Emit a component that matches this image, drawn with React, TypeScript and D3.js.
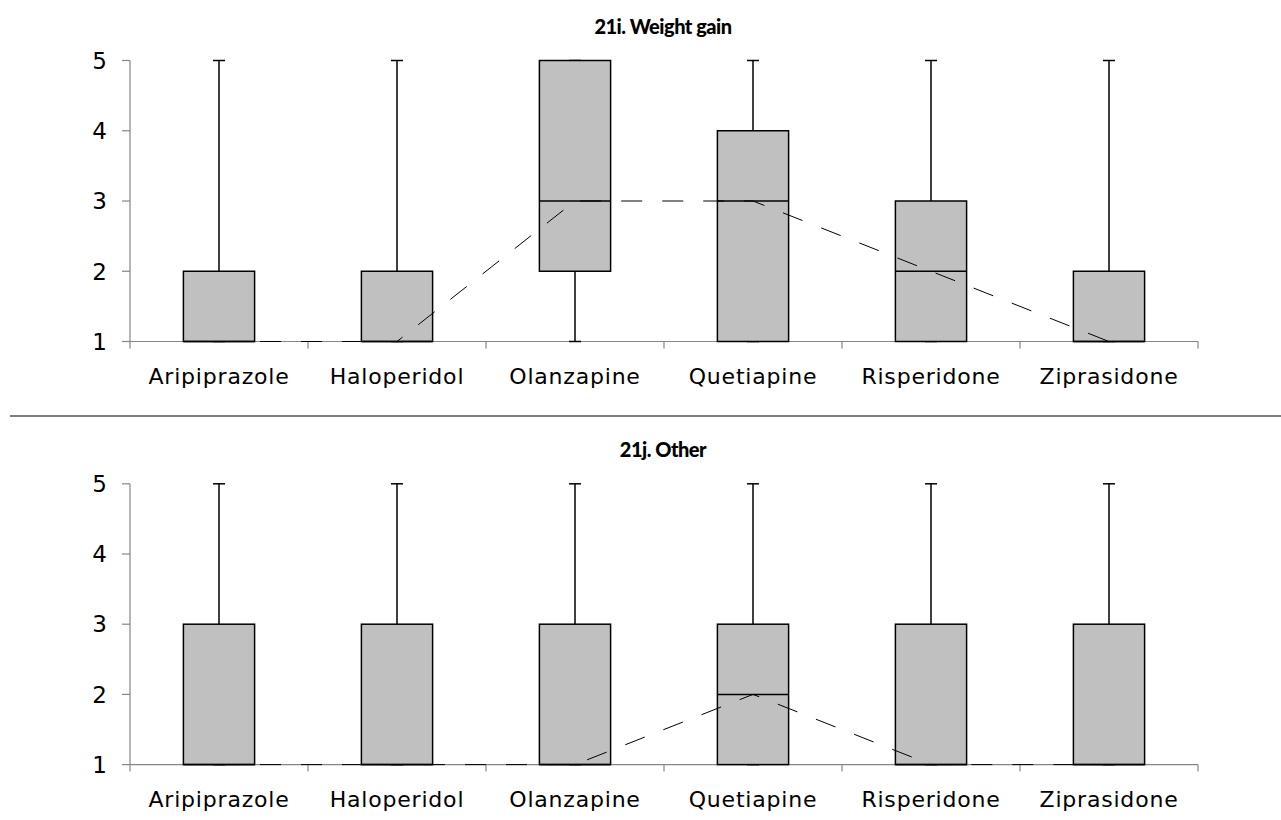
import React from "react";
import * as d3 from "d3";

const categories = ["Aripiprazole", "Haloperidol", "Olanzapine", "Quetiapine", "Risperidone", "Ziprasidone"];
const yTicks = [1, 2, 3, 4, 5];

// Panel 21i. Weight gain
const wgMin = [1, 1, 1, 1, 1, 1];
const wgQ1 = [1, 1, 2, 1, 1, 1];
const wgMedian = [1, 1, 3, 3, 2, 1];
const wgQ3 = [2, 2, 5, 4, 3, 2];
const wgMax = [5, 5, 5, 5, 5, 5];

// Panel 21j. Other
const otMin = [1, 1, 1, 1, 1, 1];
const otQ1 = [1, 1, 1, 1, 1, 1];
const otMedian = [1, 1, 1, 2, 1, 1];
const otQ3 = [3, 3, 3, 3, 3, 3];
const otMax = [5, 5, 5, 5, 5, 5];

const panels = [
  { title: "21i. Weight gain", min: wgMin, q1: wgQ1, med: wgMedian, q3: wgQ3, max: wgMax, top: 60.5, bottom: 341.5 },
  { title: "21j. Other", min: otMin, q1: otQ1, med: otMedian, q3: otQ3, max: otMax, top: 483.8, bottom: 764.6 },
];

const FONT = "'DejaVu Sans', sans-serif";
const TFONT = "Lato, sans-serif";
const AXIS = "#868686";

function Panel({ p }: { p: typeof panels[number] }) {
  const x = d3.scaleBand<string>().domain(categories).range([130, 1198]).paddingInner(0.6).paddingOuter(0.3);
  const y = d3.scaleLinear().domain([1, 5]).range([p.bottom, p.top]);
  const step = x.step();
  const bw = x.bandwidth();
  const cx = (c: string) => (x(c) as number) + bw / 2;
  const line = d3
    .line<number>()
    .x((_, i) => cx(categories[i]))
    .y((d) => y(d));
  const boundaries = d3.range(categories.length + 1).map((i) => 130 + i * step);
  return (
    <g>
      <text x={663} y={p.top - 26.5} textAnchor="middle" fontFamily={TFONT} fontWeight={900} fontSize={20} letterSpacing={-0.5} fill="#000">
        {p.title}
      </text>
      {/* y axis */}
      <line x1={130} x2={130} y1={y(5)} y2={y(1)} stroke={AXIS} strokeWidth={1.2} />
      {yTicks.map((t) => (
        <g key={t}>
          <line x1={122} x2={130} y1={y(t)} y2={y(t)} stroke={AXIS} strokeWidth={1.2} />
          <text x={107} y={y(t)} dy="0.36em" textAnchor="end" fontFamily={FONT} fontSize={23} fill="#000">
            {t}
          </text>
        </g>
      ))}
      {/* x axis */}
      <line x1={130} x2={1198} y1={y(1)} y2={y(1)} stroke={AXIS} strokeWidth={1.2} />
      {boundaries.map((b, i) => (
        <line key={i} x1={b} x2={b} y1={y(1)} y2={y(1) + 7} stroke={AXIS} strokeWidth={1.2} />
      ))}
      {categories.map((c) => (
        <text key={c} x={cx(c)} y={y(1) + 42.5} textAnchor="middle" fontFamily={FONT} fontSize={22} letterSpacing={0.8} fill="#000">
          {c}
        </text>
      ))}
      {/* boxes */}
      {categories.map((c, i) => (
        <g key={c}>
          <line x1={cx(c)} x2={cx(c)} y1={y(p.max[i])} y2={y(p.q3[i])} stroke="#000" strokeWidth={1.5} />
          <line x1={cx(c)} x2={cx(c)} y1={y(p.min[i])} y2={y(p.q1[i])} stroke="#000" strokeWidth={1.5} />
          <line x1={cx(c) - 6} x2={cx(c) + 6} y1={y(p.max[i])} y2={y(p.max[i])} stroke="#000" strokeWidth={1.5} />
          <line x1={cx(c) - 6} x2={cx(c) + 6} y1={y(p.min[i])} y2={y(p.min[i])} stroke="#000" strokeWidth={1.5} />
          <rect
            x={x(c)}
            y={y(p.q3[i])}
            width={bw}
            height={y(p.q1[i]) - y(p.q3[i])}
            fill="#c0c0c0"
            stroke="#000"
            strokeWidth={1.5}
          />
          <line x1={x(c)} x2={(x(c) as number) + bw} y1={y(p.med[i])} y2={y(p.med[i])} stroke="#000" strokeWidth={1.5} />
        </g>
      ))}
      <path d={line(p.med) as string} fill="none" stroke="#000" strokeWidth={1} strokeDasharray="21,20" />
    </g>
  );
}

export default function App() {
  return (
    <svg width={1281} height={820} style={{ position: "absolute", left: 0, top: 0, background: "#fff" }}>
      <rect width={1281} height={820} fill="#fff" />
      {panels.map((p) => (
        <Panel key={p.title} p={p} />
      ))}
      <line x1={10} x2={1281} y1={416} y2={416} stroke="#000" strokeWidth={1.2} />
    </svg>
  );
}
